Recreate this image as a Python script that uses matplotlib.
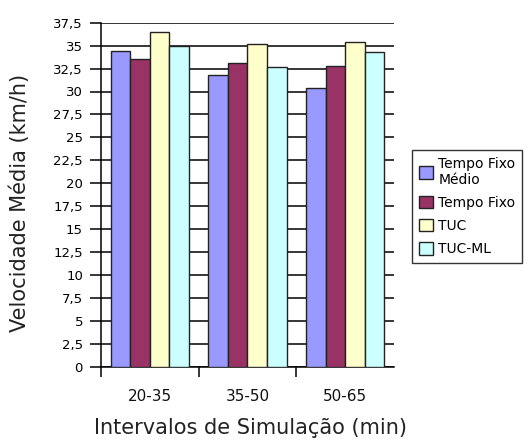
import numpy as np
import matplotlib
matplotlib.use('Agg')
import matplotlib.pyplot as plt
from matplotlib.ticker import FuncFormatter

# data
intervals = ['20-35', '35-50', '50-65']
series = ['Tempo Fixo\nMédio', 'Tempo Fixo', 'TUC', 'TUC-ML']
fixo_medio = [34.4, 31.8, 30.4]
fixo = [33.5, 33.1, 32.8]
tuc = [36.5, 35.2, 35.4]
tuc_ml = [35.0, 32.7, 34.3]
colors = ['#9999ff', '#993366', '#ffffcc', '#ccffff']

plt.rcParams['font.family'] = 'DejaVu Sans'

fig = plt.figure(figsize=(5.27, 4.41), dpi=100)
ax = fig.add_axes([101/527, 1 - 366.7/441, 293/527, 344/441])

x = np.arange(len(intervals))
w = 0.2
for i, vals in enumerate([fixo_medio, fixo, tuc, tuc_ml]):
    ax.bar(x - 0.3 + i * w, vals, w, color=colors[i], edgecolor='#222222',
           linewidth=1.0, label=series[i], zorder=3)

ax.set_xlim(-0.5, 2.5)
ax.set_ylim(0, 37.5)
ax.set_yticks(np.arange(0, 37.6, 2.5))
ax.yaxis.set_major_formatter(FuncFormatter(lambda v, p: ('%g' % v).replace('.', ',')))
ax.yaxis.grid(True, color='black', linewidth=1.1, zorder=0)
ax.set_axisbelow(True)

ax.set_xticks(x)
ax.set_xticklabels(intervals)
ax.set_xticks([-0.5, 0.5, 1.5], minor=True)
ax.tick_params(axis='x', which='major', length=0, pad=16, labelsize=11, colors='#111111')
ax.tick_params(axis='x', which='minor', length=7.5, width=1.1, direction='out')
ax.tick_params(axis='y', length=8, width=1.1, pad=5, labelsize=9.5)

for s in ['top', 'right']:
    ax.spines[s].set_visible(False)
ax.spines['left'].set_linewidth(1.1)
ax.spines['bottom'].set_linewidth(1.1)

ax.set_ylabel('Velocidade Média (km/h)', fontsize=15, va='center', color='#222222')
ax.yaxis.set_label_coords(-0.278, 0.476)
ax.set_xlabel('Intervalos de Simulação (min)', fontsize=15, va='center', color='#222222')
ax.xaxis.set_label_coords(0.51, -0.178)

leg = fig.legend(loc='lower left', bbox_to_anchor=(412/527, 1 - 263/441),
                 fontsize=10, frameon=True, fancybox=False, handlelength=1.0,
                 handleheight=1.0, handletextpad=0.4, borderpad=0.5,
                 labelspacing=0.65, borderaxespad=0)
leg.get_frame().set_edgecolor('black')
leg.get_frame().set_linewidth(1.0)

fig.savefig('out.png', dpi=100)
